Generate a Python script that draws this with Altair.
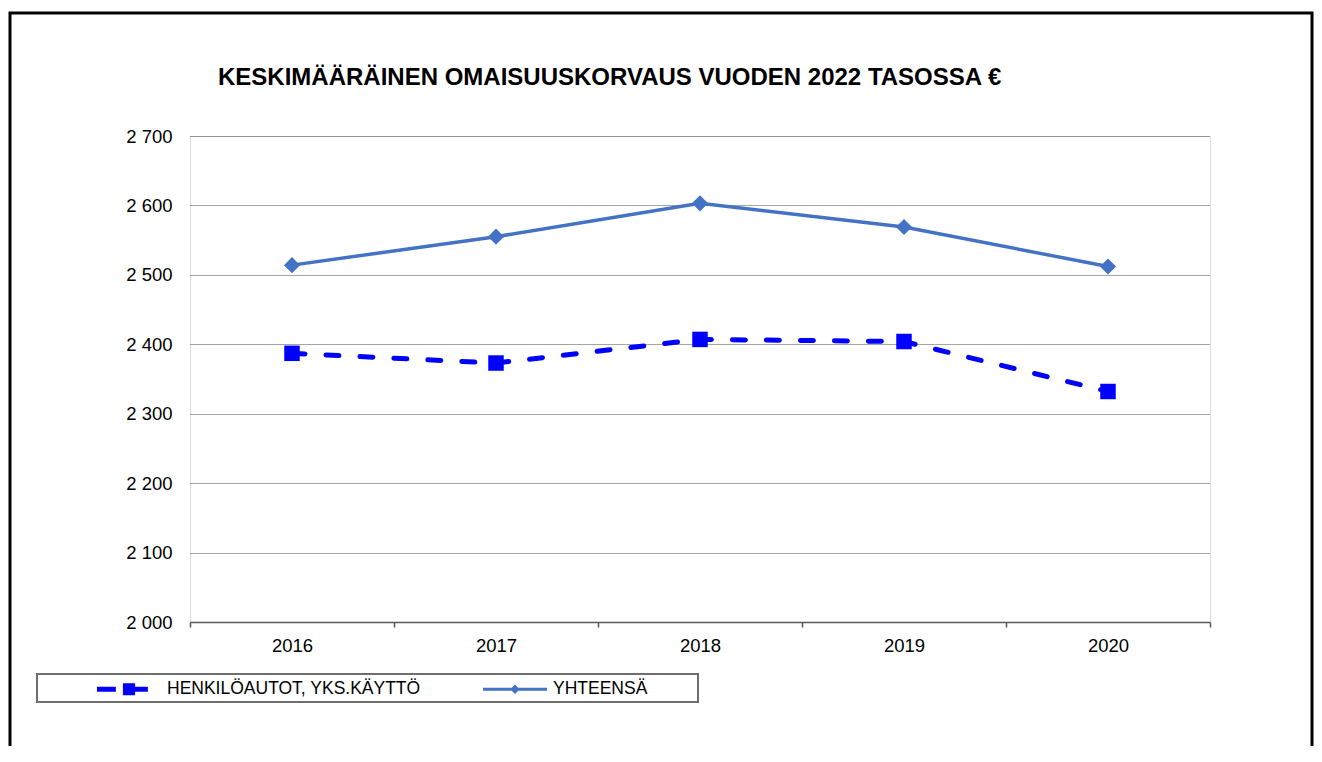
import altair as alt
import pandas as pd

years = ["2016", "2017", "2018", "2019", "2020"]
series_names = ["HENKILÖAUTOT, YKS.KÄYTTÖ", "YHTEENSÄ"]
henkiloautot = [2387, 2373, 2407, 2404, 2332]
yhteensa = [2514, 2555, 2603, 2569, 2512]
y_ticks = [2000, 2100, 2200, 2300, 2400, 2500, 2600, 2700]
title_text = "KESKIMÄÄRÄINEN OMAISUUSKORVAUS VUODEN 2022 TASOSSA €"

rows = []
for yr, v in zip(years, henkiloautot):
    rows.append({"Vuosi": yr, "Arvo": v, "Sarja": series_names[0]})
for yr, v in zip(years, yhteensa):
    rows.append({"Vuosi": yr, "Arvo": v, "Sarja": series_names[1]})
df = pd.DataFrame(rows)

FONT = "Liberation Sans"
W, H = 1020, 486

x_enc = alt.X(
    "Vuosi:N",
    sort=years,
    scale=alt.Scale(type="band", paddingInner=0, paddingOuter=0),
    axis=alt.Axis(
        title=None, labelAngle=0, tickBand="extent", grid=False,
        domainColor="#5a5a5a", domainWidth=1.5, tickColor="#5a5a5a",
        tickSize=5, tickWidth=1.5, labelPadding=9, labelFontSize=18.5,
        labelColor="#000000", labelFont=FONT,
    ),
)
y_enc = alt.Y(
    "Arvo:Q",
    scale=alt.Scale(domain=[2000, 2700], nice=False, zero=False),
    axis=alt.Axis(
        title=None, values=y_ticks, domain=False, ticks=False,
        labelPadding=18, labelFontSize=18.5, labelColor="#000000", labelFont=FONT,
        grid=True, gridColor="#4a4a4a", gridDash=[1, 1], gridWidth=1,
        labelExpr="replace(format(datum.value, 'd'), /(\\d)(\\d{3})$/, '$1 $2')",
    ),
)

base = alt.Chart(df).encode(x=x_enc, y=y_enc)

henk = base.transform_filter(alt.datum.Sarja == series_names[0])
yht = base.transform_filter(alt.datum.Sarja == series_names[1])

line_h = henk.mark_line(color="#0000FF", strokeWidth=5, strokeDash=[13, 21], strokeCap="round")
line_y = yht.mark_line(color="#4472C4", strokeWidth=3.5)
pts_h = henk.mark_point(shape="square", filled=True, color="#0000FF", size=240, opacity=1)
pts_y = yht.mark_point(shape="diamond", filled=True, color="#4472C4", size=260, opacity=1)

glyph_h = ("M-1,-0.08H-0.41V0.08H-1Z "
           "M-0.19,-0.19H0.19V0.19H-0.19Z "
           "M0.19,-0.08H0.59V0.08H0.19Z")
glyph_y = "M-1,-0.05H1V0.05H-1Z M0,-0.15L0.15,0L0,0.15L-0.15,0Z"

legend = alt.Legend(
    title=None, orient="none", legendX=-93, legendY=521, direction="horizontal",
    columns=2, columnPadding=62, padding=0, symbolSize=4096, symbolStrokeWidth=0,
    symbolOpacity=1, labelOffset=6, labelFontSize=17.5, labelFont=FONT,
    labelColor="#000000", labelLimit=400,
)
legend_layer = base.mark_point(filled=True, opacity=0).encode(
    color=alt.Color("Sarja:N", scale=alt.Scale(domain=series_names, range=["#0000FF", "#4472C4"]), legend=legend),
    shape=alt.Shape("Sarja:N", scale=alt.Scale(domain=series_names, range=[glyph_h, glyph_y]), legend=legend),
)

frame = alt.Chart(pd.DataFrame({"k": [0]})).mark_rect(
    fill=None, filled=False, stroke="#000000", strokeWidth=3
).encode(x=alt.value(-180), x2=alt.value(1122), y=alt.value(-123), y2=alt.value(700))

legend_box = alt.Chart(pd.DataFrame({"k": [0]})).mark_rect(
    fill="#ffffff", stroke="#6e6e6e", strokeWidth=2
).encode(x=alt.value(-153), x2=alt.value(508), y=alt.value(538), y2=alt.value(566))

chart = alt.layer(
    frame, legend_box, line_y, line_h, pts_y, pts_h, legend_layer
).properties(
    width=W, height=H,
    autosize=alt.AutoSizeParams(type="none"),
    padding={"left": 182, "top": 128, "right": 104, "bottom": 124},
    title=alt.TitleParams(
        title_text, anchor="start", frame="group", dx=28, offset=-78,
        fontSize=24, font=FONT, fontWeight="bold", color="#000000",
    ),
).configure_view(stroke=None).configure(font=FONT, background="#ffffff")

chart.save("out.html", embed_options={"renderer": "svg", "actions": False})
